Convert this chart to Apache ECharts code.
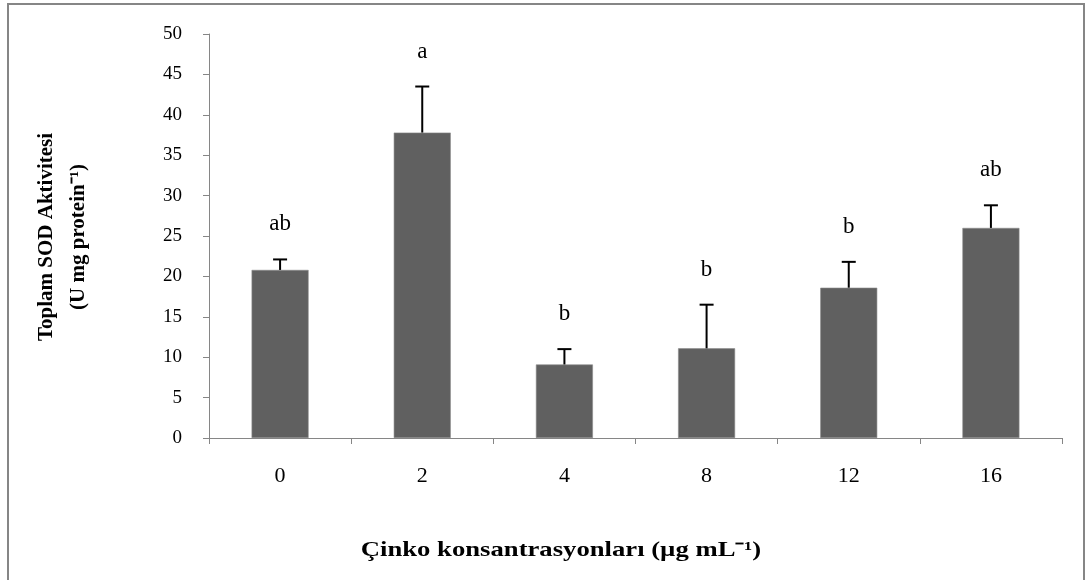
<!DOCTYPE html>
<html><head><meta charset="utf-8">
<script src="https://cdn.jsdelivr.net/npm/echarts@6/dist/echarts.min.js"></script>
<style>html,body{margin:0;padding:0;background:#fff}#c{width:1092px;height:580px}</style>
</head><body><div id="c"></div>
<script>
const categories = ['0', '2', '4', '8', '12', '16'];
const meanValues = [20.8, 37.8, 9.1, 11.1, 18.6, 26.0];
const errorValues = [1.3, 5.7, 1.9, 5.4, 3.2, 2.8];
const groupLetters = ['ab', 'a', 'b', 'b', 'b', 'ab'];
const yTicks = [0, 5, 10, 15, 20, 25, 30, 35, 40, 45, 50];

const serif = '"Liberation Serif", "Times New Roman", serif';
const axisGray = '#868686';

const chart = echarts.init(document.getElementById('c'), null, {renderer: 'canvas'});
const errData = categories.map((c, i) => [i, meanValues[i], meanValues[i] + errorValues[i]]);

chart.setOption({
  animation: false,
  backgroundColor: '#fff',
  graphic: [{
    type: 'rect', shape: {x: 8, y: 4, width: 1076, height: 600},
    style: {fill: 'none', stroke: axisGray, lineWidth: 2}, silent: true
  }, {
    type: 'text', x: 561, y: 551, scaleX: 1.27,
    style: {text: 'Çinko konsantrasyonları (µg mL\u207B\u00B9)', font: 'bold 21px ' + serif, fill: '#000', align: 'center', verticalAlign: 'middle'}
  }, {
    type: 'text', x: 47, y: 237, rotation: Math.PI / 2,
    style: {text: 'Toplam SOD Aktivitesi', font: 'bold 21px ' + serif, fill: '#000', align: 'center', verticalAlign: 'middle'}
  }, {
    type: 'text', x: 79, y: 237, rotation: Math.PI / 2,
    style: {text: '(U mg protein\u207B\u00B9)', font: 'bold 21px ' + serif, fill: '#000', align: 'center', verticalAlign: 'middle'}
  }],
  grid: {left: 209, top: 34, right: 30, bottom: 142, containLabel: false},
  xAxis: {
    type: 'category', data: categories, boundaryGap: true,
    axisLine: {show: true, lineStyle: {color: axisGray, width: 1}},
    axisTick: {show: true, length: 6, lineStyle: {color: axisGray}},
    axisLabel: {margin: 27, fontFamily: serif, fontSize: 22, color: '#000'},
    splitLine: {show: false}
  },
  yAxis: {
    type: 'value', min: yTicks[0], max: yTicks[yTicks.length - 1], interval: yTicks[1] - yTicks[0],
    axisLine: {show: true, lineStyle: {color: axisGray, width: 1}},
    axisTick: {show: true, length: 6, lineStyle: {color: axisGray}},
    axisLabel: {margin: 27, fontFamily: serif, fontSize: 19, color: '#000'},
    splitLine: {show: false}
  },
  series: [{
    type: 'bar', data: meanValues, barWidth: 57,
    itemStyle: {color: '#606060', borderColor: '#8a8a8a', borderWidth: 0.6}
  }, {
    type: 'custom', data: errData, z: 5,
    renderItem: function (params, api) {
      const x = api.coord([api.value(0), api.value(1)]);
      const top = api.coord([api.value(0), api.value(2)]);
      const letter = groupLetters[params.dataIndex];
      return {
        type: 'group', children: [
          {type: 'line', shape: {x1: x[0], y1: x[1], x2: top[0], y2: top[1]}, style: {stroke: '#000', lineWidth: 2}},
          {type: 'line', shape: {x1: top[0] - 7, y1: top[1], x2: top[0] + 7, y2: top[1]}, style: {stroke: '#000', lineWidth: 2}},
          {type: 'text', x: top[0], y: top[1] - 35, style: {text: letter, font: '23px ' + serif, fill: '#000', align: 'center', verticalAlign: 'middle'}}
        ]
      };
    }
  }]
});
</script></body></html>
